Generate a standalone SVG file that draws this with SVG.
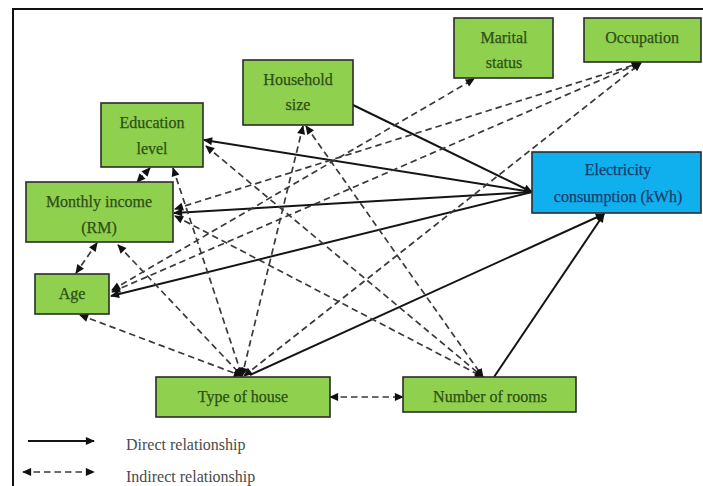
<svg xmlns="http://www.w3.org/2000/svg" width="703" height="486" viewBox="0 0 703 486">
<defs>
<marker id="ah" viewBox="0 0 10 10" refX="9" refY="5" markerWidth="10" markerHeight="9" markerUnits="userSpaceOnUse" orient="auto-start-reverse"><path d="M0,0.5 L10,5 L0,9.5 z" fill="#111"/></marker>
</defs>
<style>
.n{fill:#8fd14f;stroke:#2b2b2b;stroke-width:1.6}
.b{fill:#10b0ee;stroke:#2b2b2b;stroke-width:1.6}
.t{font-family:"Liberation Serif",serif;font-size:16px;fill:#2e4f14;stroke:#2e4f14;stroke-width:0.25;text-anchor:middle}
.tb{font-family:"Liberation Serif",serif;font-size:16px;fill:#1c3c6c;stroke:#1c3c6c;stroke-width:0.25;text-anchor:middle}
.lg{font-family:"Liberation Serif",serif;font-size:16px;fill:#4a4a4a}
.d{stroke:#141414;stroke-width:2;fill:none;marker-end:url(#ah)}
.i{stroke:#3a3a3a;stroke-width:1.7;fill:none;stroke-dasharray:6.5 4;marker-start:url(#ah);marker-end:url(#ah)}
</style>
<rect width="703" height="486" fill="#fff"/>
<path d="M13,486 L13,9 L703,9" fill="none" stroke="#111" stroke-width="2"/>
<g id="connectors">
<path class="d" d="M353,105 L532,192"/>
<path class="d" d="M532,192 L204,140"/>
<path class="d" d="M532,192 L174,213"/>
<path class="d" d="M532,192 L111,296"/>
<path class="d" d="M250,375 L604,214"/>
<path class="d" d="M494,377 L604,214"/>
<path class="i" d="M150,168 L137,182"/>
<path class="i" d="M97,243 L76,273"/>
<path class="i" d="M80,315 L242,376"/>
<path class="i" d="M118,245 L242,376"/>
<path class="i" d="M173,168 L242,376"/>
<path class="i" d="M303,126 L242,376"/>
<path class="i" d="M306,126 L483,377"/>
<path class="i" d="M206,146 L483,377"/>
<path class="i" d="M175,216 L483,377"/>
<path class="i" d="M175,209 L640,63"/>
<path class="i" d="M112,292 L640,63"/>
<path class="i" d="M112,290 L474,79"/>
<path class="i" d="M244,376 L641,63"/>
<path class="i" d="M330,397 L403,397"/>
</g>
<g id="household"><rect class="n" x="243" y="60" width="110" height="65"/><text class="t" x="298" y="85">Household</text><text class="t" x="298" y="110">size</text></g>
<g id="education"><rect class="n" x="101" y="103" width="102" height="64"/><text class="t" x="152" y="128">Education</text><text class="t" x="152" y="154">level</text></g>
<g id="income"><rect class="n" x="26" y="182" width="147" height="60"/><text class="t" x="99" y="207">Monthly income</text><text class="t" x="99" y="233">(RM)</text></g>
<g id="marital"><rect class="n" x="454" y="18" width="99" height="60"/><text class="t" x="504" y="43">Marital</text><text class="t" x="504" y="68">status</text></g>
<g id="occupation"><rect class="n" x="584" y="18" width="117" height="44"/><text class="t" x="642" y="43">Occupation</text></g>
<g id="electricity"><rect class="b" x="532" y="152" width="169" height="61"/><text class="tb" x="618" y="175">Electricity</text><text class="tb" x="618" y="202">consumption (kWh)</text></g>
<g id="age"><rect class="n" x="35" y="274" width="74" height="40"/><text class="t" x="72" y="299">Age</text></g>
<g id="typehouse"><rect class="n" x="156" y="377" width="174" height="40"/><text class="t" x="243" y="402">Type of house</text></g>
<g id="rooms"><rect class="n" x="403" y="377" width="173" height="35"/><text class="t" x="490" y="402">Number of rooms</text></g>
<g id="legend">
<path class="d" d="M28,441 L94,441"/>
<path class="i" d="M23,472 L94,472"/>
<text class="lg" x="126" y="450">Direct relationship</text>
<text class="lg" x="126" y="482">Indirect relationship</text>
</g>
</svg>
